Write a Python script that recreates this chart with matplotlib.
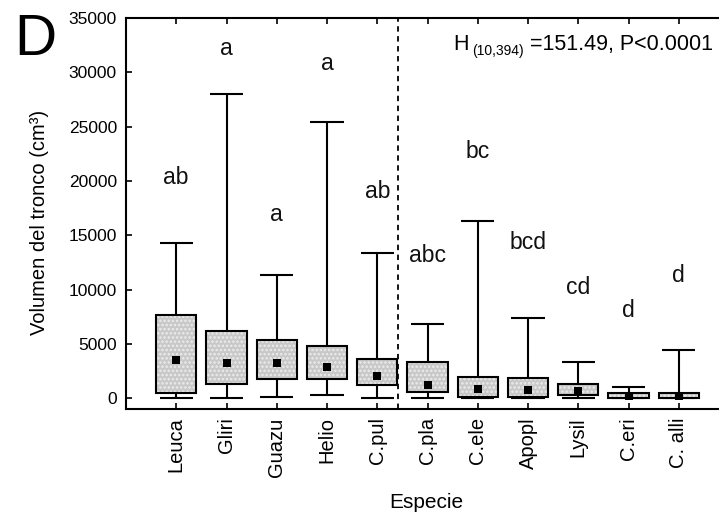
import matplotlib
matplotlib.use("Agg")
import matplotlib.pyplot as plt

plt.rcParams['font.family'] = ['Liberation Sans', 'DejaVu Sans']
plt.rcParams['hatch.linewidth'] = 1.2

categories = ['Leuca', 'Gliri', 'Guazu', 'Helio', 'C.pul', 'C.pla', 'C.ele',
              'Apopl', 'Lysil', 'C.eri', 'C. alli']
q1 = [430, 1290, 1780, 1780, 1200, 580, 60, 60, 280, 0, 0]
q3 = [7640, 6140, 5310, 4790, 3590, 3290, 1960, 1810, 1290, 500, 500]
medians = [3500, 3200, 3200, 2880, 2050, 1200, 860, 740, 670, 210, 210]
whisker_low = [0, 0, 120, 280, 0, 0, 0, 0, 30, 0, 0]
whisker_high = [14300, 28000, 11300, 25450, 13330, 6800, 16300, 7340, 3290, 1020, 4420]
letters = ['ab', 'a', 'a', 'a', 'ab', 'abc', 'bc', 'bcd', 'cd', 'd', 'd']
letter_y = [19710, 31590, 16330, 30210, 18420, 12550, 22100, 13690, 9580, 7430, 10710]
yticks = [0, 5000, 10000, 15000, 20000, 25000, 30000, 35000]

W, H = 719, 519
fig = plt.figure(figsize=(W / 100, H / 100), dpi=100)
ax = fig.add_axes([126 / W, 1 - 409 / H, 603 / W, 391 / H])

x = list(range(1, len(categories) + 1))
bw = 0.8
cw = 0.66
lw = 1.5

# whiskers
ax.vlines(x, whisker_low, q1, color='black', lw=lw, zorder=2)
ax.vlines(x, q3, whisker_high, color='black', lw=lw, zorder=2)
ax.hlines(whisker_low, [xi - cw / 2 for xi in x], [xi + cw / 2 for xi in x],
          color='black', lw=lw, zorder=2)
ax.hlines(whisker_high, [xi - cw / 2 for xi in x], [xi + cw / 2 for xi in x],
          color='black', lw=lw, zorder=2)

# boxes: stippled fill then outline
heights = [b - a for a, b in zip(q1, q3)]
ax.bar(x, heights, bottom=q1, width=bw, color='#c8c8c8', edgecolor='#ececec',
       linewidth=0, hatch='....', zorder=3)
ax.bar(x, heights, bottom=q1, width=bw, fill=False, edgecolor='black',
       linewidth=lw, zorder=4)

# medians
ax.scatter(x, medians, marker='s', s=34, color='black', zorder=5, linewidths=0)

# group separator
ax.axvline(5.42, color='black', lw=1.3, linestyle=(0, (3, 2.5)), zorder=1)

# letters
for xi, t, yv in zip(x, letters, letter_y):
    ax.text(xi, yv, t, ha='center', va='baseline', fontsize=16.5, color='#111111')

ax.set_xlim(0, 12)
ax.set_ylim(-1000, 35000)
ax.set_xticks(x)
ax.set_xticklabels(categories, rotation=90, fontsize=14.5)
ax.set_yticks(yticks)
ax.set_yticklabels([str(v) for v in yticks], fontsize=12.5)
ax.tick_params(direction='in', length=4, width=1.2, top=True, right=False,
               labeltop=False)
ax.tick_params(axis='y', pad=6.5)
ax.tick_params(axis='x', pad=6)
for s in ['left', 'bottom', 'top']:
    ax.spines[s].set_linewidth(lw)
ax.spines['right'].set_visible(False)

# axis labels
fig.text(40 / W, 1 - 222 / H, 'Volumen del tronco (cm³)', rotation=90,
         ha='center', va='center', fontsize=14.5)
fig.text(426 / W, 1 - 503 / H, 'Especie', ha='center', va='center', fontsize=15)

# panel letter
fig.text(14 / W, 1 - 55 / H, 'D', ha='left', va='baseline', fontsize=42)

# statistic annotation
fig.text(453 / W, 1 - 50 / H, 'H', ha='left', va='baseline', fontsize=15.5)
fig.text(472 / W, 1 - 55 / H, '(10,394)', ha='left', va='baseline', fontsize=10)
fig.text(530 / W, 1 - 50 / H, '=151.49, P<0.0001', ha='left', va='baseline',
         fontsize=15.5)

fig.savefig('out.png', dpi=100, facecolor='white')
